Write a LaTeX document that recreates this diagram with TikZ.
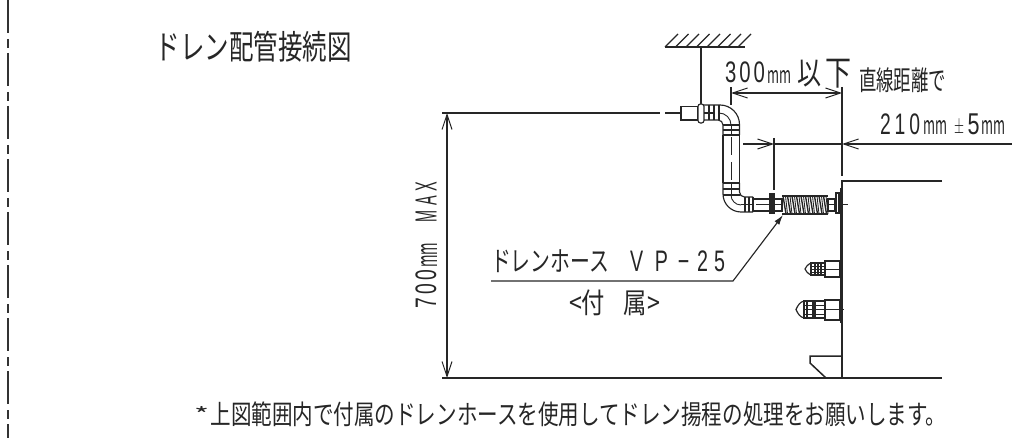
\documentclass[tikz,border=0pt]{standalone}
\usepackage{fontspec}
\setmainfont{Noto Sans CJK JP}
\newfontfamily\lat{Liberation Sans}
\usetikzlibrary{arrows.meta}
\newcommand\fit[3]{\resizebox*{#1pt}{#2pt}{#3}}
\tikzset{
  txt/.style={inner sep=0pt,outer sep=0pt,text=black!85},
  ln/.style={line width=1.15pt,black!85},
  thin ln/.style={line width=0.9pt,black!85},
  thick ln/.style={line width=1.7pt,black!85},
  dim/.style={line width=1.1pt,black!85},
  dimtip/.style={dim,{Straight Barb[length=15pt,width=10pt,line width=1pt]}-{Straight Barb[length=15pt,width=10pt,line width=1pt]}},
  ltip/.style={dim,{Straight Barb[length=15pt,width=10pt,line width=1pt]}-},
}
\begin{document}
\begin{tikzpicture}[x=1pt,y=-1pt]
\useasboundingbox (0,0) rectangle (1032,438);
% left border
\draw[line width=1.3pt,black!80,dash pattern=on 33pt off 6pt on 9pt off 5pt] (8,0) coordinate (bl1) -- (8,438) coordinate (bl2);
% texts
\node[txt] (title) at (253.5,47) {\fit{196}{31}{ドレン配管接続図}};
\node[txt] (t300) at (745,72.5) {\fit{40}{21}{\lat 3\kern1.5pt 0\kern1.5pt 0}};
\node[txt] (tmm) at (779.5,77) {\fit{24}{13}{mm}};
\node[txt] (t1) at (809,74) {\fit{24}{27}{以}};
\node[txt] (t2) at (838,74) {\fit{26}{29}{下}};
\node[txt] (tstr) at (902.5,80) {\fit{87}{25}{直線距離で}};
\node[txt] (t210) at (900,124) {\fit{40}{21}{\lat 2\kern2pt 1\kern2pt 0}};
\node[txt] (tmmb) at (935,127.5) {\fit{24}{14}{mm}};
\node[txt] (tpm) at (959,127.5) {\fit{10}{15}{$\pm$}};
\node[txt] (t5) at (973.5,124) {\fit{12}{21}{\lat 5}};
\node[txt] (tmmc) at (993.5,127.5) {\fit{24}{14}{mm}};
\node[txt,rotate=90] (t700) at (426,289) {\fit{38}{21}{\lat 7\kern1.5pt 0\kern1.5pt 0}};
\node[txt,rotate=90] (tmmd) at (429,255.5) {\fit{25}{16}{mm}};
\node[txt,rotate=90] (tmax) at (426,202) {\fit{40}{21}{\lat M\kern3pt A\kern3pt X}};
\node[txt] (those) at (550,261) {\fit{118}{23}{ドレンホース}};
\node[txt] (tvp) at (677.5,261) {\fit{95}{21}{\lat V\kern6pt P\kern5pt −\kern4pt 2\kern3pt 5}};
\node[txt] (tfz) at (614.5,302.5) {\fit{91}{26}{<付\kern8pt 属>}};
\node[txt] (star) at (202,414) {\fit{15}{15}{*}};
\node[txt] (note) at (578.5,414) {\fit{736}{25}{上図範囲内で付属のドレンホースを使用してドレン揚程の処理をお願いします。}};
% ceiling
\coordinate (c1) at (665,47); \coordinate (c2) at (745,47);
\draw[thick ln] (c1) -- (c2);
\foreach \x in {665,675.5,686,696.5,707,717.5,728,738}
  \draw[ln] (\x,47) -- (\x+13,34);
\draw[line width=2.6pt,black!85] (701,47) coordinate (h1) -- (701,104) coordinate (h2);
% reference lines
\coordinate (tl) at (442,113); \coordinate (tr) at (660,113);
\coordinate (bl) at (442,378); \coordinate (br) at (942,378);
\draw[dim] (tl) -- (tr);
\draw[dim] (665,113) -- (681,113);
\draw[dim] (bl) -- (br);
\draw[dimtip] (447,113) -- (447,378);
% pipe top
\draw[ln] (681,106.5) rectangle (698,120);
\draw[ln,rounded corners=2.5pt,fill=white] (698,104) rectangle (704,123);
\draw[ln] (704,105) -- (720,105) arc[start angle=-90,end angle=0,radius=19.5] -- (739.5,135);
\draw[ln] (704,120) -- (718,120) arc[start angle=-90,end angle=0,radius=5] -- (723,135);
\draw[thin ln] (719,113) arc[start angle=-90,end angle=0,radius=12];
\draw[ln] (709,105) -- (709,120) (714,105) -- (714,120) (719,105) -- (719,120);
\draw[ln] (723,125) -- (739.5,125) (723,130) -- (739.5,130) (723,135) -- (739.5,135);
\draw[thin ln] (731,125) -- (731,135);
\draw[ln] (714,113) -- (704,113);
% vertical pipe
\draw[ln] (723,135) -- (723,183) (739.5,135) -- (739.5,183);
\draw[thin ln,dash pattern=on 18pt off 7pt] (731,137) -- (731,183);
% lower elbow
\draw[ln] (723,183) -- (739.5,183) (723,189) -- (739.5,189) (723,195) -- (739.5,195);
\draw[thin ln] (731,183) -- (731,195);
\draw[ln] (723,183) -- (723,194) arc[start angle=180,end angle=90,radius=18] -- (753,212);
\draw[ln] (739.5,183) -- (739.5,192) arc[start angle=180,end angle=90,radius=5] -- (753,197);
\draw[thin ln] (731,195) arc[start angle=180,end angle=90,radius=10];
\draw[ln] (745,197) -- (745,212) (749,197) -- (749,212) (753,197) -- (753,212);
\draw[thin ln] (741,204.5) -- (753,204.5);
% horizontal pipe
\draw[ln] (753,199) rectangle (770,211);
\draw[thin ln] (756,204.5) -- (770,204.5);
\draw[line width=2.2pt,black!85] (770.5,194.5) rectangle (773.5,212.5);
\draw[ln] (774,199) rectangle (782,211);
\draw[thin ln] (774,204.5) -- (782,204.5);
% hose
\draw[ln] (782,196) -- (828,196) (782,214) -- (828,214);
\foreach \i in {0,...,9}{
  \pgfmathsetmacro\xa{783+4.5*\i}
  \draw[line width=1.4pt,black!85] (\xa,196) -- (\xa+3,214);
  \draw[thin ln] (\xa+2.5,196) -- (\xa+4.5,214);
}
\draw[ln] (828,199) rectangle (835,211);
\draw[thin ln] (828,204.5) -- (835,204.5);
\draw[line width=2.2pt,black!85] (836,193) rectangle (839,213);
\draw[thin ln] (839,204.5) -- (848,204.5);
% box wall
\coordinate (w1) at (942,181); \coordinate (w2) at (842,181); \coordinate (w3) at (842,378);
\draw[line width=1.5pt,black!85] (w1) -- (w2) -- (w3);
\draw[line width=2.4pt,black!85] (841.2,188) -- (841.2,323);
% 300 dim
\coordinate (e1) at (731,87); \coordinate (e2) at (842,87); \coordinate (e3) at (842,176);
\draw[dim] (e1) -- (731,105);
\draw[dim] (e2) -- (e3);
\draw[dimtip] (731,93) -- (842,93);
% 210 dim
\coordinate (f1) at (774,138); \coordinate (f2) at (774,190);
\draw[dim] (f1) -- (f2);
\coordinate (g1) at (743,144); \coordinate (g2) at (774,144);
\draw[dim,-{Straight Barb[length=15pt,width=10pt,line width=1pt]}] (g1) -- (g2);
\coordinate (g3) at (842,144); \coordinate (g4) at (1012,144);
\draw[dim] (g2) -- (g3);
\draw[ltip] (g3) -- (g4);
% leader
\coordinate (ld1) at (491,281); \coordinate (ld2) at (733,281); \coordinate (ld3) at (783,215);
\draw[ln,-{Latex[length=10pt,width=6pt]}] (ld1) -- (ld2) -- (ld3);
% upper fitting
\draw[ln] (825,261) rectangle (840,277);
\draw[thin ln] (825,269) -- (840,269);
\draw[ln] (811,263) rectangle (825,275);
\draw[ln] (815,263) -- (815,275) (818,263) -- (818,275) (821,263) -- (821,275);
\draw[thin ln] (811,266) -- (825,266) (811,272) -- (825,272) (811,269) -- (825,269);
\draw[ln] (811,263) .. controls (807,265) and (806,267) .. (805,269) .. controls (806,271) and (807,273) .. (811,275);
% lower fitting
\draw[ln] (825,300) rectangle (840,320);
\draw[thin ln] (825,309.5) -- (844,309.5);
\draw[ln] (804,301) rectangle (825,318);
\draw[ln] (807,301) -- (807,318) (813,301) -- (813,318) (815,301) -- (815,318);
\draw[thin ln] (804,305) -- (825,305) (804,309.5) -- (825,309.5) (804,314) -- (825,314);
\draw[ln] (804,301) .. controls (800,302) and (798,305) .. (796,309.5) .. controls (798,314) and (800,317) .. (804,318);
% foot
\draw[line width=1.5pt,black!85] (842,356) -- (810,356) -- (810,363) -- (826,378);
\end{tikzpicture}
\end{document}
